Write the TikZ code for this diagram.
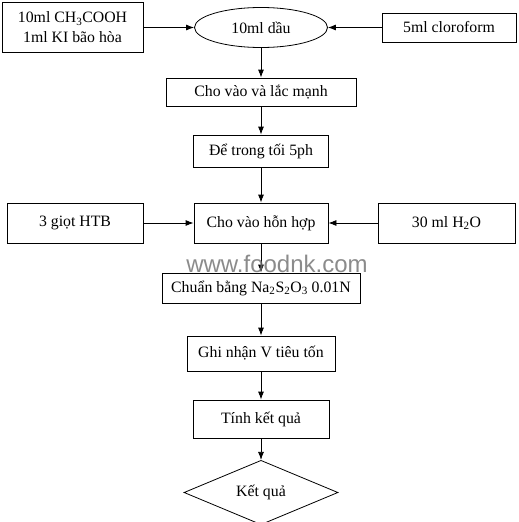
\documentclass[tikz,border=0pt]{standalone}
\usepackage{fontspec}
\setmainfont{Liberation Serif}
\newfontfamily\wmfont{Liberation Sans}
\usetikzlibrary{shapes.geometric,arrows.meta}
\begin{document}
\begin{tikzpicture}[x=1pt,y=-1pt,
  every node/.style={font=\fontsize{15.8}{20}\selectfont, inner sep=0pt},
  box/.style={draw, line width=0.8pt, rectangle, align=center},
  oval/.style={draw, line width=0.8pt, ellipse},
  decide/.style={draw, line width=0.8pt, diamond},
  arr/.style={line width=0.8pt, -{Latex[length=8pt,width=6pt]}}]
\useasboundingbox (0,0) rectangle (519,522);
\node[box, minimum width=141pt, minimum height=50pt] (a) at (72.5,27.5) {10ml CH\textsubscript{3}COOH\\1ml KI bão hòa};
\node[oval, minimum width=133pt, minimum height=40pt] (oil) at (261,27.5) {10ml dầu};
\node[box, minimum width=134pt, minimum height=29pt] (chl) at (449,27.5) {5ml cloroform};
\node[box, minimum width=190pt, minimum height=28pt] (shake) at (261,92) {Cho vào và lắc mạnh};
\node[box, minimum width=135pt, minimum height=32pt] (dark) at (261,151) {Để trong tối 5ph};
\node[box, minimum width=134pt, minimum height=40pt] (mix) at (261,223) {Cho vào hỗn hợp};
\node[box, minimum width=136pt, minimum height=40pt] (htb) at (75,223) {3 giọt HTB};
\node[box, minimum width=137pt, minimum height=40pt] (water) at (446.5,223) {30 ml H\textsubscript{2}O};
\node[box, minimum width=198pt, minimum height=30pt] (titr) at (261,288) {Chuẩn bằng Na\textsubscript{2}S\textsubscript{2}O\textsubscript{3} 0.01N};
\node[box, minimum width=148pt, minimum height=35pt] (rec) at (261,353.5) {Ghi nhận V tiêu tốn};
\node[box, minimum width=136pt, minimum height=38pt] (calc) at (261,419) {Tính kết quả};
\node[decide, minimum width=154pt, minimum height=53pt] (res) at (261,492.5) {Kết quả};
\draw[arr] (a.east) -- (oil.west);
\draw[arr] (chl.west) -- (oil.east);
\draw[arr] (oil.south) -- (shake.north);
\draw[arr] (shake.south) -- (dark.north);
\draw[arr] (dark.south) -- (mix.north);
\draw[arr] (htb.east) -- (mix.west);
\draw[arr] (water.west) -- (mix.east);
\draw[arr] (mix.south) -- (titr.north);
\draw[arr] (titr.south) -- (rec.north);
\draw[arr] (rec.south) -- (calc.north);
\draw[arr] (calc.south) -- (res.north);
\node[font=\wmfont\fontsize{24}{24}\selectfont, text={rgb,255:red,110;green,110;blue,110}, opacity=0.8] (wm) at (277,264) {www.foodnk.com};
\end{tikzpicture}
\end{document}
